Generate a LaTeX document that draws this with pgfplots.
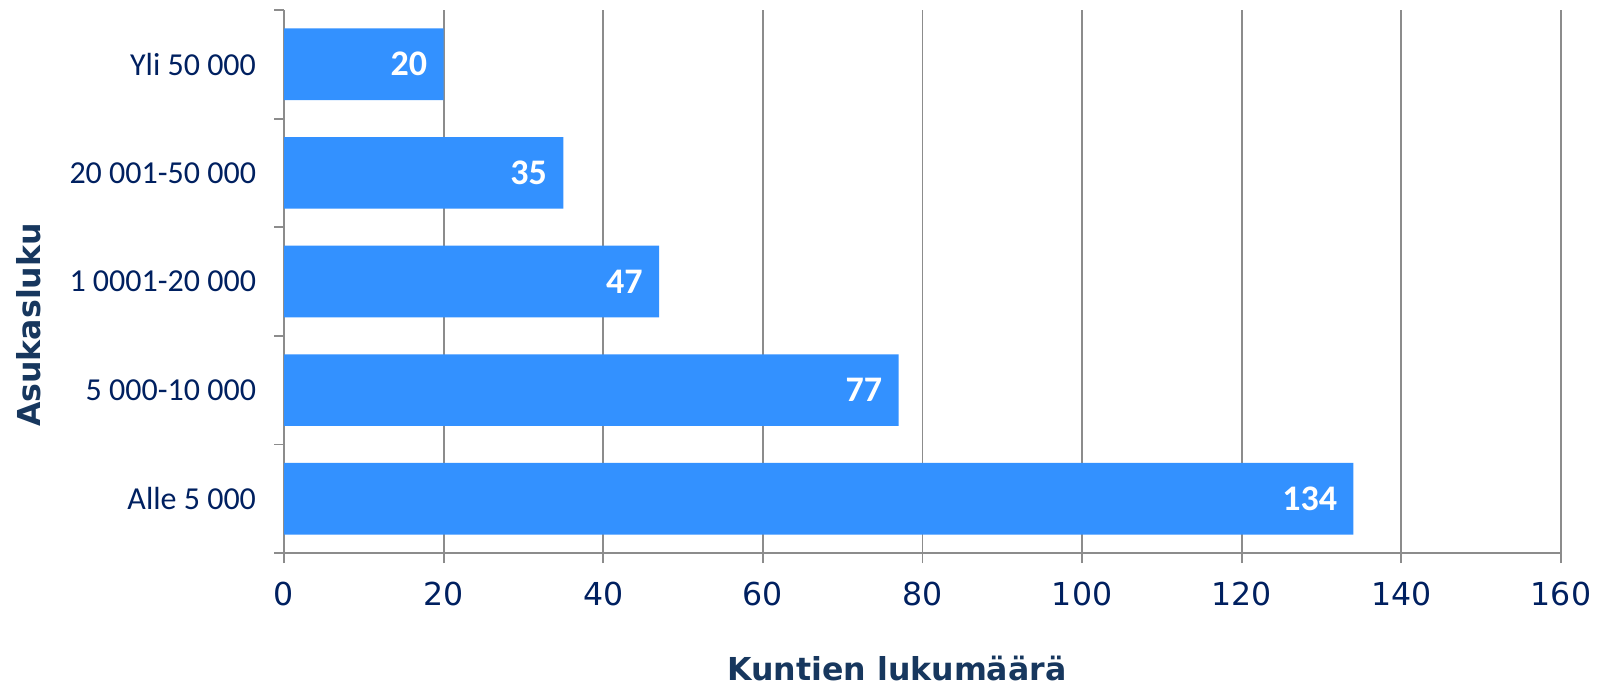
\documentclass[border=0pt]{standalone}
\usepackage{fontspec}
\setmainfont{Carlito}
\newfontfamily\dejavu{DejaVu Sans}
\usepackage{pgfplots}
\pgfplotsset{compat=1.18}
\definecolor{barblue}{RGB}{51,145,255}
\definecolor{ticknavy}{RGB}{0,32,96}
\definecolor{titlenavy}{RGB}{23,55,94}
\definecolor{gridgray}{RGB}{140,140,140}
\begin{document}
\begin{tikzpicture}
\useasboundingbox (0,0) rectangle (799bp,344bp);
\begin{axis}[
  at={(142bp,67.5bp)}, anchor=south west,
  scale only axis, width=638.5bp, height=271.5bp,
  xbar, bar width=0.66,
  xmin=0, xmax=160, ymin=-0.5, ymax=4.5,
  xtick={0,20,...,160},
  ytick={-0.5,0.5,...,4.5}, yticklabels={},
  extra y ticks={0,1,2,3,4},
  extra y tick labels={Alle 5 000,5 000-10 000,1 0001-20 000,20 001-50 000,Yli 50 000},
  extra y tick style={major tick length=0pt, yticklabel style={xshift=-10.5bp}},
  axis x line*=bottom, axis y line*=left,
  axis line style={-, draw=gridgray, line width=0.9bp},
  tick style={draw=gridgray, line width=0.9bp},
  major tick length=5bp, tick align=outside,
  xmajorgrids, grid style={draw=gridgray, line width=0.9bp},
  /pgf/number format/assume math mode=true,
  xticklabel style={font=\dejavu\fontsize{15.8bp}{18bp}\selectfont, text=ticknavy, yshift=-6bp},
  yticklabel style={font=\fontsize{16bp}{19bp}\selectfont, text=ticknavy},
  nodes near coords,
  every node near coord/.append style={anchor=east, inner sep=0pt, xshift=-8bp,
     font=\bfseries\fontsize{18bp}{21bp}\selectfont, text=white},
  clip=false,
]
\addplot[fill=barblue, draw=none] coordinates {(134,0) (77,1) (47,2) (35,3) (20,4)};
\node[font=\dejavu\bfseries\fontsize{15.8bp}{19bp}\selectfont, text=titlenavy, inner sep=0pt]
  at (axis description cs:0.48,-0.212) {Kuntien lukumäärä};
\node[font=\dejavu\bfseries\fontsize{15.8bp}{19bp}\selectfont, text=titlenavy, rotate=90, inner sep=0pt]
  at (axis description cs:-0.2,0.42) {Asukasluku};
\end{axis}
\end{tikzpicture}
\end{document}
